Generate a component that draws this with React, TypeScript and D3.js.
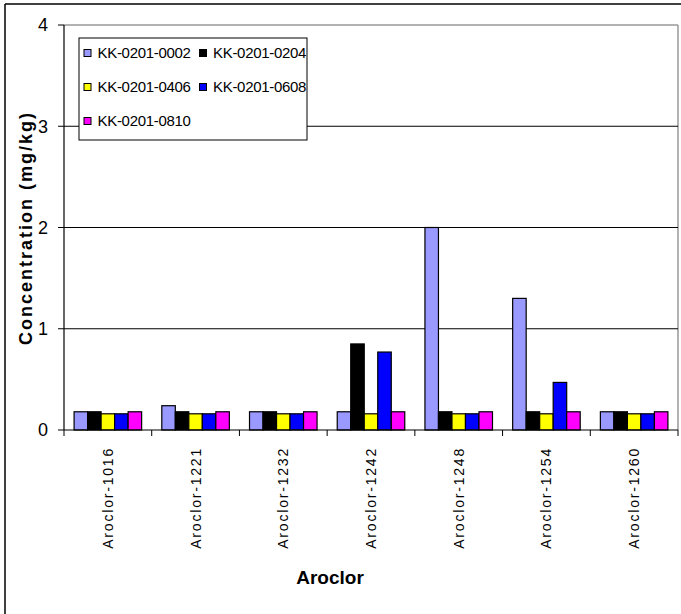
import React from "react";
import * as d3 from "d3";

const categories = ["Aroclor-1016", "Aroclor-1221", "Aroclor-1232", "Aroclor-1242", "Aroclor-1248", "Aroclor-1254", "Aroclor-1260"];
const seriesNames = ["KK-0201-0002", "KK-0201-0204", "KK-0201-0406", "KK-0201-0608", "KK-0201-0810"];
const seriesColors = ["#9999FF", "#000000", "#FFFF00", "#0000FF", "#FF00FF"];
const s0002 = [0.18, 0.24, 0.18, 0.18, 2.0, 1.3, 0.18];
const s0204 = [0.18, 0.18, 0.18, 0.85, 0.18, 0.18, 0.18];
const s0406 = [0.16, 0.16, 0.16, 0.16, 0.16, 0.16, 0.16];
const s0608 = [0.16, 0.16, 0.16, 0.77, 0.16, 0.47, 0.16];
const s0810 = [0.18, 0.18, 0.18, 0.18, 0.18, 0.18, 0.18];
const seriesValues = [s0002, s0204, s0406, s0608, s0810];
const yTicks = [0, 1, 2, 3, 4];

export default function App() {
  const W = 681, H = 614;
  const left = 64, right = 678, top = 25, bottom = 430;
  const x = d3.scaleBand<string>().domain(categories).range([left, right]).paddingInner(0).paddingOuter(0);
  const y = d3.scaleLinear().domain([0, 4]).range([bottom, top]);
  const groupPad = x.bandwidth() * 0.115;
  const inner = d3.scaleBand<string>().domain(seriesNames).range([groupPad, x.bandwidth() - groupPad]);
  const font = "Arial, 'Liberation Sans', sans-serif";

  return (
    <svg width={W} height={H} style={{ position: "absolute", left: 0, top: 0, display: "block" }} fontFamily={font}>
      <rect x={0} y={0} width={W} height={H} fill="#fff" />
      {/* outer chart border */}
      <line x1={5} y1={4} x2={W} y2={4} stroke="#000" strokeWidth={1.5} />
      <line x1={5} y1={4} x2={5} y2={H} stroke="#000" strokeWidth={1.5} />
      {/* plot area border */}
      <line x1={left} y1={top} x2={right} y2={top} stroke="#999" strokeWidth={1.5} />
      <line x1={right} y1={top} x2={right} y2={bottom} stroke="#999" strokeWidth={1.5} />
      {/* gridlines */}
      {yTicks.filter(t => t > 0 && t < 4).map(t => (
        <line key={t} x1={left} x2={right} y1={y(t)} y2={y(t)} stroke="#000" strokeWidth={1} />
      ))}
      {/* bars */}
      {categories.map((c, ci) => (
        <g key={c}>
          {seriesNames.map((s, si) => (
            <rect key={s}
              x={(x(c) as number) + (inner(s) as number)}
              y={y(seriesValues[si][ci])}
              width={inner.bandwidth()}
              height={y(0) - y(seriesValues[si][ci])}
              fill={seriesColors[si]} stroke="#000" strokeWidth={1.2} />
          ))}
        </g>
      ))}
      {/* y axis */}
      <line x1={left} x2={left} y1={top} y2={bottom} stroke="#000" strokeWidth={1.2} />
      {yTicks.map(t => (
        <g key={t}>
          <line x1={left - 6} x2={left} y1={y(t)} y2={y(t)} stroke="#000" strokeWidth={1} />
          <text x={48} y={y(t)} dy="0.35em" textAnchor="end" fontSize={18}>{t}</text>
        </g>
      ))}
      {/* x axis */}
      <line x1={left} x2={right} y1={bottom} y2={bottom} stroke="#000" strokeWidth={1.2} />
      {categories.map(c => (
        <line key={"t" + c} x1={x(c) as number} x2={x(c) as number} y1={bottom} y2={bottom + 6} stroke="#000" strokeWidth={1} />
      ))}
      <line x1={right} x2={right} y1={bottom} y2={bottom + 6} stroke="#000" strokeWidth={1} />
      {categories.map(c => {
        const cx = (x(c) as number) + x.bandwidth() / 2;
        return (
          <text key={"l" + c} transform={`translate(${cx + 5},447) rotate(-90)`} textAnchor="end" fontSize={14} letterSpacing={1.8}>{c}</text>
        );
      })}
      {/* axis titles */}
      <text transform="translate(32,228) rotate(-90)" textAnchor="middle" fontSize={18} fontWeight="bold" letterSpacing={2}>Concentration (mg/kg)</text>
      <text x={330} y={584} textAnchor="middle" fontSize={19} fontWeight="bold">Aroclor</text>
      {/* legend */}
      <rect x={79} y={38} width={228} height={102} fill="#fff" stroke="#000" strokeWidth={1} />
      {seriesNames.map((s, i) => {
        const col = i % 2, row = Math.floor(i / 2);
        const lx = 84 + col * 115.5;
        const ly = 53 + row * 34;
        return (
          <g key={s}>
            <rect x={lx} y={ly - 3.5} width={7} height={7} fill={seriesColors[i]} stroke="#000" strokeWidth={1} />
            <text x={lx + 13.5} y={ly} dy="0.35em" fontSize={15} letterSpacing={-0.3}>{s}</text>
          </g>
        );
      })}
    </svg>
  );
}
